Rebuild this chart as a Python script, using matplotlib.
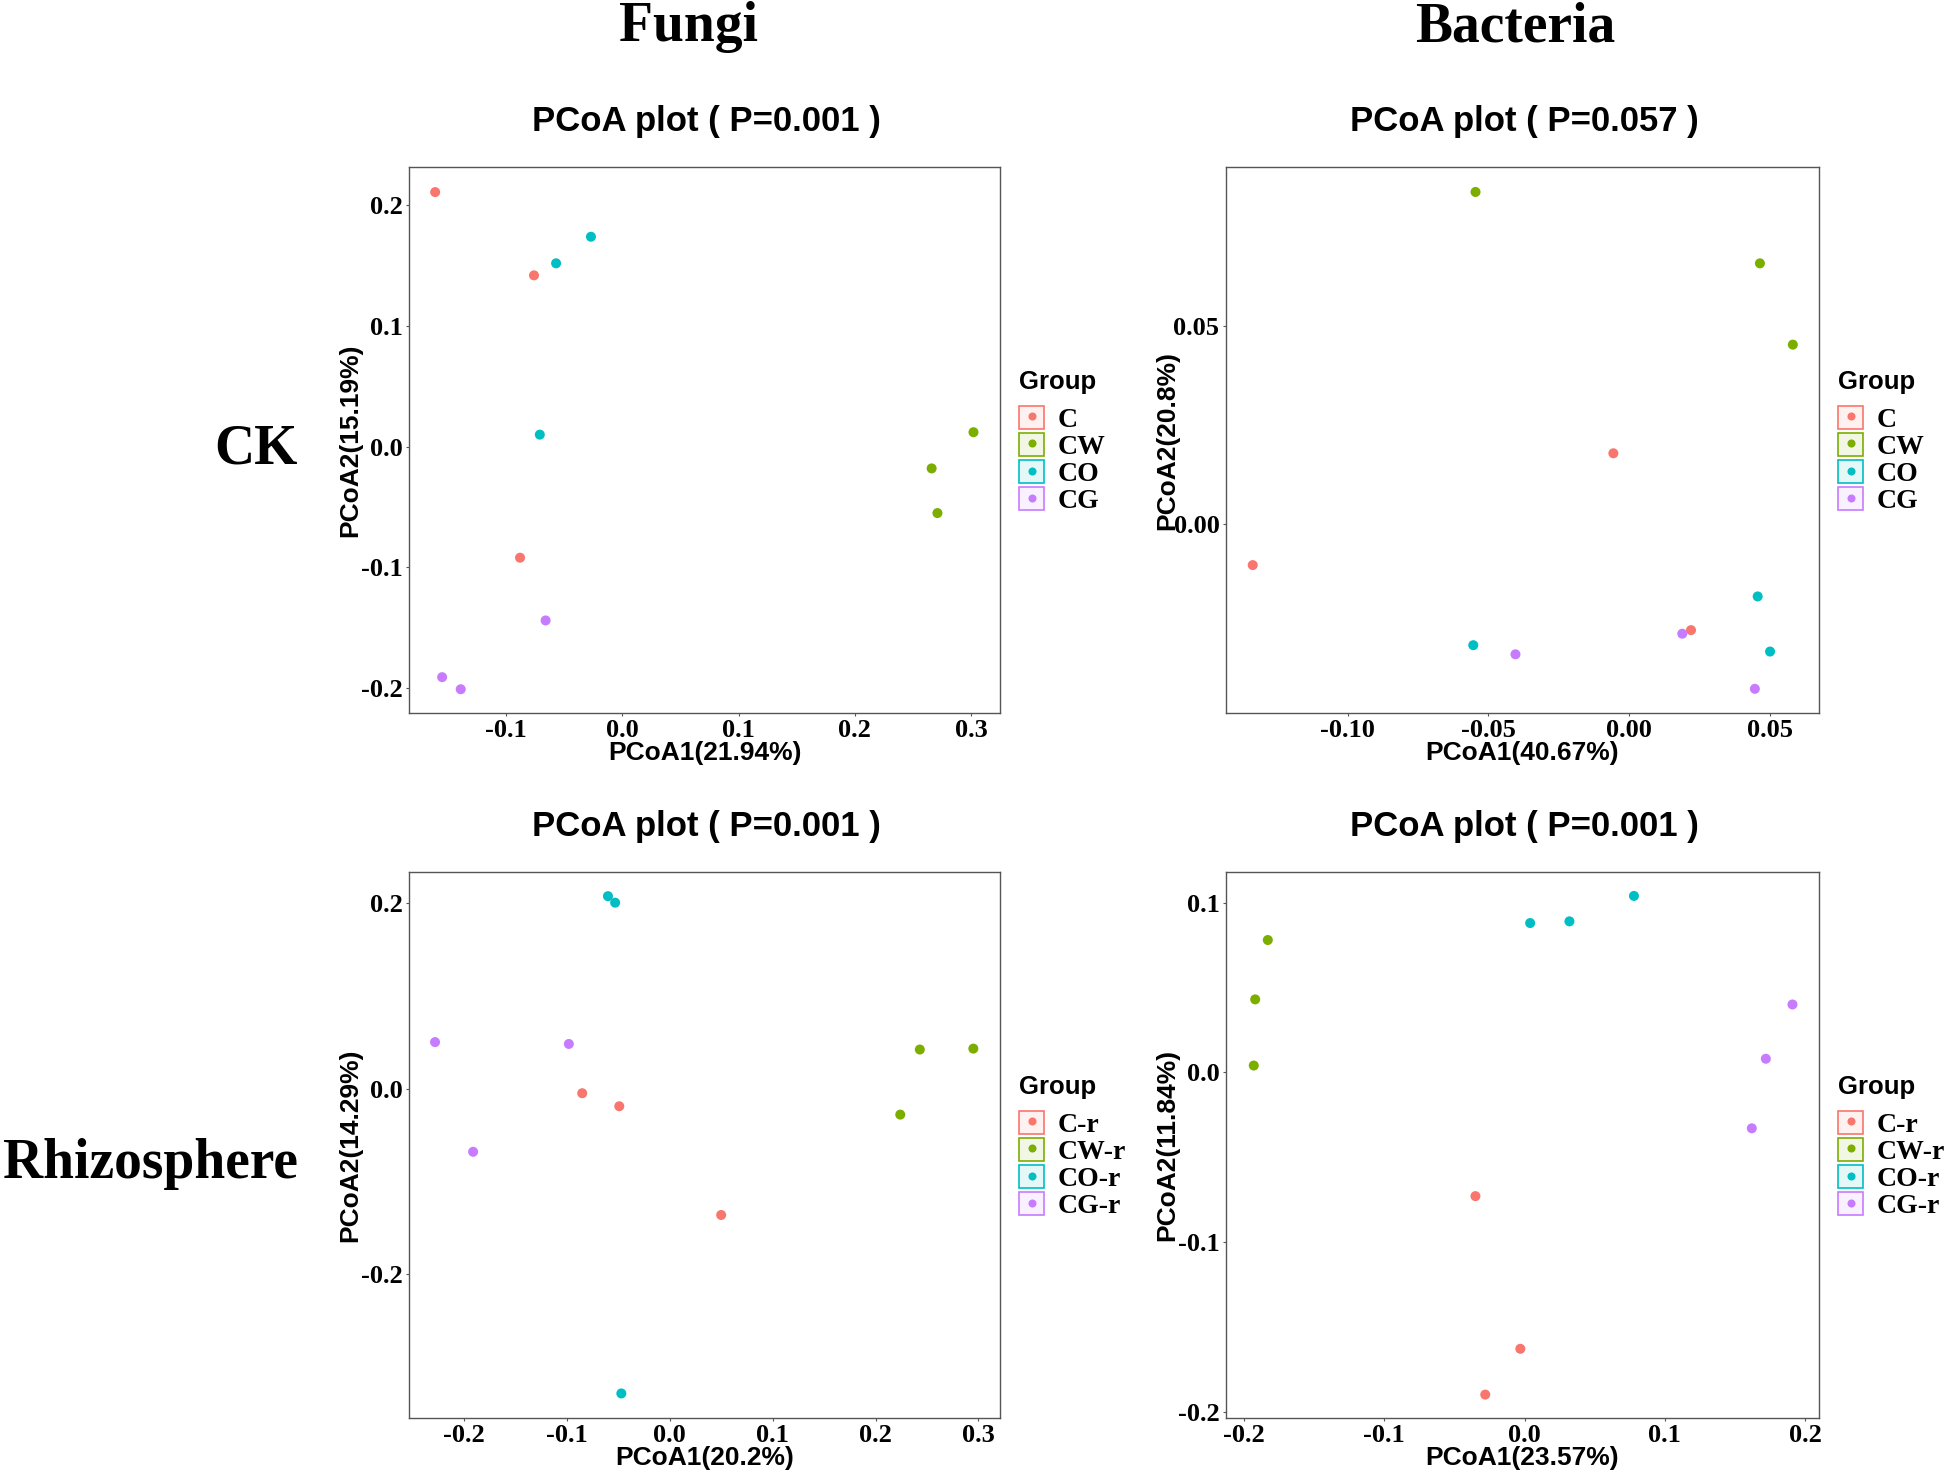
import matplotlib
matplotlib.use("Agg")
import matplotlib.pyplot as plt
from matplotlib.patches import Rectangle
from matplotlib.lines import Line2D
from matplotlib.legend_handler import HandlerTuple
from matplotlib.colors import to_rgba

plt.rcParams['axes.unicode_minus'] = False

SERIF = 'Liberation Serif'
SANS = 'Liberation Sans'
W, H = 1944, 1474

colors = ['#F8766D', '#7CAE00', '#00BFC4', '#C77CFF']

# ---- data (3 samples per group) ----
# Fungi, CK
fck_groups = ['C', 'CW', 'CO', 'CG']
fck_x = [[-0.161, -0.076, -0.088], [0.302, 0.266, 0.271],
         [-0.027, -0.057, -0.071], [-0.066, -0.155, -0.139]]
fck_y = [[0.211, 0.142, -0.092], [0.012, -0.018, -0.055],
         [0.174, 0.152, 0.010], [-0.144, -0.191, -0.201]]

# Bacteria, CK
bck_groups = ['C', 'CW', 'CO', 'CG']
bck_x = [[-0.0056, -0.1338, 0.0220], [-0.0546, 0.0465, 0.0582],
         [0.0457, -0.0554, 0.0501], [-0.0404, 0.0189, 0.0447]]
bck_y = [[0.0179, -0.0103, -0.0267], [0.0838, 0.0658, 0.0453],
         [-0.0182, -0.0305, -0.0321], [-0.0328, -0.0276, -0.0415]]

# Fungi, rhizosphere
frh_groups = ['C-r', 'CW-r', 'CO-r', 'CG-r']
frh_x = [[-0.085, -0.049, 0.050], [0.243, 0.295, 0.224],
         [-0.060, -0.053, -0.047], [-0.228, -0.098, -0.191]]
frh_y = [[-0.005, -0.019, -0.136], [0.042, 0.043, -0.028],
         [0.207, 0.200, -0.328], [0.050, 0.048, -0.068]]

# Bacteria, rhizosphere
brh_groups = ['C-r', 'CW-r', 'CO-r', 'CG-r']
brh_x = [[-0.035, -0.003, -0.028], [-0.183, -0.192, -0.193],
         [0.078, 0.004, 0.032], [0.191, 0.172, 0.162]]
brh_y = [[-0.073, -0.163, -0.190], [0.078, 0.043, 0.004],
         [0.104, 0.088, 0.089], [0.040, 0.008, -0.033]]

panels = [
    dict(groups=fck_groups, xs=fck_x, ys=fck_y, p='0.001',
         xlabel='PCoA1(21.94%)', ylabel='PCoA2(15.19%)',
         xlim=(-0.1835, 0.3248), ylim=(-0.2207, 0.2318),
         xticks=[-0.1, 0.0, 0.1, 0.2, 0.3], yticks=[-0.2, -0.1, 0.0, 0.1, 0.2], fmt='{:.1f}',
         box=(409, 167, 1000, 713)),
    dict(groups=bck_groups, xs=bck_x, ys=bck_y, p='0.057',
         xlabel='PCoA1(40.67%)', ylabel='PCoA2(20.8%)',
         xlim=(-0.1433, 0.0675), ylim=(-0.0476, 0.0901),
         xticks=[-0.10, -0.05, 0.00, 0.05], yticks=[0.00, 0.05], fmt='{:.2f}',
         box=(1226, 167, 1819, 713)),
    dict(groups=frh_groups, xs=frh_x, ys=frh_y, p='0.001',
         xlabel='PCoA1(20.2%)', ylabel='PCoA2(14.29%)',
         xlim=(-0.2533, 0.3209), ylim=(-0.3544, 0.2330),
         xticks=[-0.2, -0.1, 0.0, 0.1, 0.2, 0.3], yticks=[-0.2, 0.0, 0.2], fmt='{:.1f}',
         box=(409, 872, 1000, 1418)),
    dict(groups=brh_groups, xs=brh_x, ys=brh_y, p='0.001',
         xlabel='PCoA1(23.57%)', ylabel='PCoA2(11.84%)',
         xlim=(-0.2128, 0.2099), ylim=(-0.2038, 0.1181),
         xticks=[-0.2, -0.1, 0.0, 0.1, 0.2], yticks=[-0.2, -0.1, 0.0, 0.1], fmt='{:.1f}',
         box=(1226, 872, 1819, 1418)),
]

fig = plt.figure(figsize=(W / 100, H / 100), dpi=100)

for pan in panels:
    x0, y0, x1, y1 = pan['box']
    pw, ph = x1 - x0, y1 - y0
    ax = fig.add_axes([x0 / W, 1 - y1 / H, pw / W, ph / H])
    handles = []
    for g, xs, ys, c in zip(pan['groups'], pan['xs'], pan['ys'], colors):
        ax.scatter(xs, ys, s=52, color=c, edgecolors='none', zorder=3)
        key = Rectangle((0, 0), 1, 1, facecolor=to_rgba(c, 0.1), edgecolor=c, linewidth=1.2)
        dot = Line2D([], [], linestyle='none', marker='o', markersize=5.8,
                     markerfacecolor=c, markeredgecolor='none')
        handles.append((key, dot))
    ax.set_xlim(pan['xlim'])
    ax.set_ylim(pan['ylim'])
    ax.set_xticks(pan['xticks'])
    ax.set_yticks(pan['yticks'])
    ax.set_xticklabels([pan['fmt'].format(v) for v in pan['xticks']])
    ax.set_yticklabels([pan['fmt'].format(v) for v in pan['yticks']])
    for lab in ax.get_xticklabels() + ax.get_yticklabels():
        lab.set_fontfamily(SERIF)
        lab.set_fontweight('bold')
        lab.set_fontsize(19)
    ax.tick_params(axis='x', length=2.2, width=0.8, color='#555555', pad=2.4)
    ax.tick_params(axis='y', length=2.2, width=0.8, color='#555555', pad=2.5)
    for sp in ax.spines.values():
        sp.set_color('#555555')
        sp.set_linewidth(1.0)
    ax.set_xlabel(pan['xlabel'], fontfamily=SANS, fontweight='bold', fontsize=19)
    ax.set_ylabel(pan['ylabel'], fontfamily=SANS, fontweight='bold', fontsize=19)
    ax.xaxis.label.set_verticalalignment('baseline')
    ax.xaxis.set_label_coords(0.5, -47 / ph)
    ax.yaxis.label.set_verticalalignment('center')
    ax.yaxis.set_label_coords(-59 / pw, 0.5)

    # panel title
    fig.text((x0 + pw / 2 + 2) / W, 1 - (y0 - 49) / H, 'PCoA plot ( P=%s )' % pan['p'],
             ha='center', va='center_baseline', fontfamily=SANS, fontweight='bold', fontsize=25)

    # legend: title drawn as text, keys through ax.legend
    ax.text(1 + 19 / pw, (y1 - (y0 + 222)) / ph, 'Group', transform=ax.transAxes,
            ha='left', va='baseline', fontfamily=SANS, fontweight='bold', fontsize=18.5)
    ax.legend(handles, pan['groups'], handler_map={tuple: HandlerTuple(ndivide=1)},
              loc='upper left', bbox_to_anchor=(1 + 19 / pw, (y1 - (y0 + 238.5)) / ph),
              borderaxespad=0, borderpad=0, frameon=False,
              prop={'family': SERIF, 'weight': 'bold', 'size': 20},
              handlelength=0.9, handleheight=0.9, handletextpad=0.5,
              labelspacing=0.005)

big = dict(fontfamily=SERIF, fontweight='bold', fontsize=40)
fig.text(688 / W, 1 - 41 / H, 'Fungi', ha='center', va='baseline', **big)
fig.text(1515 / W, 1 - 41 / H, 'Bacteria', ha='center', va='baseline', **big)
fig.text(298 / W, 1 - 464 / H, 'CK', ha='right', va='baseline', **big)
fig.text(298 / W, 1 - 1178 / H, 'Rhizosphere', ha='right', va='baseline', **big)

fig.savefig('out.png', dpi=100)
